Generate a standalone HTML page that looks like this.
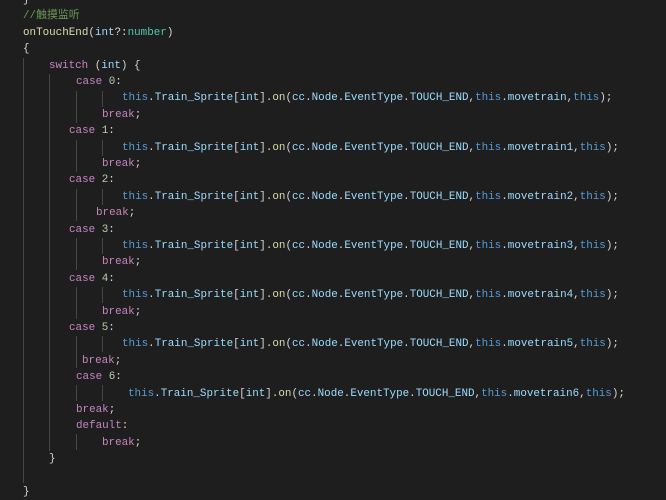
<!DOCTYPE html>
<html><head><meta charset="utf-8"><style>
body{margin:0;background:#1e1e1e;width:666px;height:500px;overflow:hidden;position:relative;font-family:"Liberation Mono","Noto Sans CJK SC",monospace;font-size:10.9px;color:#d4d4d4}
.l{position:absolute;white-space:pre;line-height:16.4px;height:16.4px}
.k{color:#c586c0}.t{color:#569cd6}.v{color:#9cdcfe}.f{color:#dcdcaa}.c{color:#6a9955}.n{color:#b5cea8}.y{color:#4ec9b0}
.g{position:absolute;width:1px;background:#464646}
</style></head><body>
<div class="g" style="left:23px;top:58px;height:425px"></div>
<div class="g" style="left:49px;top:74px;height:377px"></div>
<div class="g" style="left:76px;top:91px;height:32px"></div>
<div class="g" style="left:102px;top:91px;height:16px"></div>
<div class="g" style="left:76px;top:140px;height:32px"></div>
<div class="g" style="left:102px;top:140px;height:16px"></div>
<div class="g" style="left:76px;top:189px;height:32px"></div>
<div class="g" style="left:102px;top:189px;height:16px"></div>
<div class="g" style="left:76px;top:238px;height:32px"></div>
<div class="g" style="left:102px;top:238px;height:16px"></div>
<div class="g" style="left:76px;top:287px;height:32px"></div>
<div class="g" style="left:102px;top:287px;height:16px"></div>
<div class="g" style="left:76px;top:336px;height:32px"></div>
<div class="g" style="left:102px;top:336px;height:16px"></div>
<div class="g" style="left:76px;top:385px;height:16px"></div>
<div class="g" style="left:102px;top:385px;height:16px"></div>
<div class="g" style="left:76px;top:434px;height:16px"></div>

<div class="l" style="left:23px;top:-8px">}</div>
<div class="l c" style="left:23px;top:8.4px">//触摸监听</div>
<div class="l" style="left:23px;top:24.8px"><span class="f">onTouchEnd</span>(<span class="v">int</span>?:<span class="y">number</span>)</div>
<div class="l" style="left:23px;top:41.2px">{</div>
<div class="l" style="left:49px;top:57.6px"><span class="k">switch</span> (<span class="v">int</span>) {</div>
<div class="l" style="left:76px;top:74px"><span class="k">case</span> <span class="n">0</span>:</div>
<div class="l" style="left:122px;top:90.4px"><span class="t">this</span>.<span class="v">Train_Sprite</span>[<span class="v">int</span>].<span class="f">on</span>(<span class="v">cc</span>.<span class="v">Node</span>.<span class="v">EventType</span>.<span class="v">TOUCH_END</span>,<span class="t">this</span>.<span class="v">movetrain</span>,<span class="t">this</span>);</div>
<div class="l k" style="left:102px;top:106.8px">break<span style="color:#d4d4d4">;</span></div>
<div class="l" style="left:69px;top:123.2px"><span class="k">case</span> <span class="n">1</span>:</div>
<div class="l" style="left:122px;top:139.6px"><span class="t">this</span>.<span class="v">Train_Sprite</span>[<span class="v">int</span>].<span class="f">on</span>(<span class="v">cc</span>.<span class="v">Node</span>.<span class="v">EventType</span>.<span class="v">TOUCH_END</span>,<span class="t">this</span>.<span class="v">movetrain1</span>,<span class="t">this</span>);</div>
<div class="l k" style="left:102px;top:156px">break<span style="color:#d4d4d4">;</span></div>
<div class="l" style="left:69px;top:172.4px"><span class="k">case</span> <span class="n">2</span>:</div>
<div class="l" style="left:122px;top:188.8px"><span class="t">this</span>.<span class="v">Train_Sprite</span>[<span class="v">int</span>].<span class="f">on</span>(<span class="v">cc</span>.<span class="v">Node</span>.<span class="v">EventType</span>.<span class="v">TOUCH_END</span>,<span class="t">this</span>.<span class="v">movetrain2</span>,<span class="t">this</span>);</div>
<div class="l k" style="left:96px;top:205.2px">break<span style="color:#d4d4d4">;</span></div>
<div class="l" style="left:69px;top:221.6px"><span class="k">case</span> <span class="n">3</span>:</div>
<div class="l" style="left:122px;top:238px"><span class="t">this</span>.<span class="v">Train_Sprite</span>[<span class="v">int</span>].<span class="f">on</span>(<span class="v">cc</span>.<span class="v">Node</span>.<span class="v">EventType</span>.<span class="v">TOUCH_END</span>,<span class="t">this</span>.<span class="v">movetrain3</span>,<span class="t">this</span>);</div>
<div class="l k" style="left:102px;top:254.4px">break<span style="color:#d4d4d4">;</span></div>
<div class="l" style="left:69px;top:270.8px"><span class="k">case</span> <span class="n">4</span>:</div>
<div class="l" style="left:122px;top:287.2px"><span class="t">this</span>.<span class="v">Train_Sprite</span>[<span class="v">int</span>].<span class="f">on</span>(<span class="v">cc</span>.<span class="v">Node</span>.<span class="v">EventType</span>.<span class="v">TOUCH_END</span>,<span class="t">this</span>.<span class="v">movetrain4</span>,<span class="t">this</span>);</div>
<div class="l k" style="left:102px;top:303.6px">break<span style="color:#d4d4d4">;</span></div>
<div class="l" style="left:69px;top:320px"><span class="k">case</span> <span class="n">5</span>:</div>
<div class="l" style="left:122px;top:336.4px"><span class="t">this</span>.<span class="v">Train_Sprite</span>[<span class="v">int</span>].<span class="f">on</span>(<span class="v">cc</span>.<span class="v">Node</span>.<span class="v">EventType</span>.<span class="v">TOUCH_END</span>,<span class="t">this</span>.<span class="v">movetrain5</span>,<span class="t">this</span>);</div>
<div class="l k" style="left:82px;top:352.8px">break<span style="color:#d4d4d4">;</span></div>
<div class="l" style="left:76px;top:369.2px"><span class="k">case</span> <span class="n">6</span>:</div>
<div class="l" style="left:128px;top:385.6px"><span class="t">this</span>.<span class="v">Train_Sprite</span>[<span class="v">int</span>].<span class="f">on</span>(<span class="v">cc</span>.<span class="v">Node</span>.<span class="v">EventType</span>.<span class="v">TOUCH_END</span>,<span class="t">this</span>.<span class="v">movetrain6</span>,<span class="t">this</span>);</div>
<div class="l k" style="left:76px;top:402px">break<span style="color:#d4d4d4">;</span></div>
<div class="l k" style="left:76px;top:418.4px">default<span style="color:#d4d4d4">:</span></div>
<div class="l k" style="left:102px;top:434.8px">break<span style="color:#d4d4d4">;</span></div>
<div class="l" style="left:49px;top:451.2px">}</div>
<div class="l" style="left:23px;top:484px">}</div>
</body></html>
